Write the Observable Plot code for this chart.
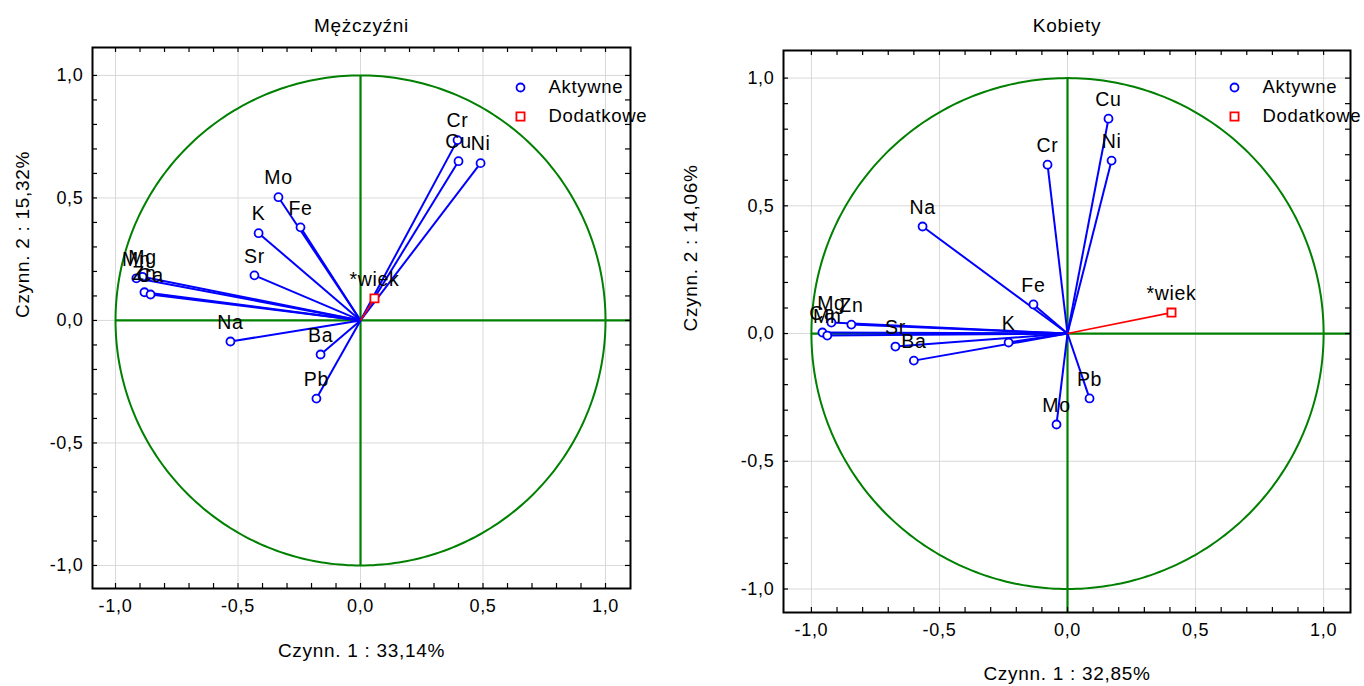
<!DOCTYPE html>
<html>
<head>
<meta charset="utf-8">
<script src="https://cdn.jsdelivr.net/npm/d3@7"></script>
<script src="https://cdn.jsdelivr.net/npm/@observablehq/plot@0.6"></script>
<style>
  body { margin: 0; background: #fff; }
  #wrap { display: flex; width: 1364px; height: 686px; overflow: hidden; }
  #wrap svg { overflow: visible; }
  #wrap svg text { letter-spacing: 0.7px; }
</style>
</head>
<body>
<div id="wrap"></div>
<script>
// Factor loadings (factor 1, factor 2) – men
const menNames = ["Cr", "Cu", "Ni", "Mo", "Fe", "K", "Sr", "Mn", "Mg", "Zn", "Ca", "Na", "Ba", "Pb"];
const menF1 = [0.396, 0.400, 0.490, -0.335, -0.245, -0.416, -0.433, -0.915, -0.890, -0.882, -0.857, -0.531, -0.163, -0.180];
const menF2 = [0.736, 0.650, 0.642, 0.503, 0.380, 0.356, 0.184, 0.172, 0.178, 0.115, 0.106, -0.086, -0.139, -0.319];
// Supplementary variable – men
const menSupNames = ["*wiek"];
const menSupF1 = [0.057];
const menSupF2 = [0.090];

// Factor loadings – women
const womenNames = ["Cu", "Ni", "Cr", "Na", "Fe", "Mg", "Zn", "Ca", "Mn", "Sr", "Ba", "K", "Pb", "Mo"];
const womenF1 = [0.160, 0.172, -0.078, -0.566, -0.133, -0.922, -0.844, -0.957, -0.938, -0.672, -0.600, -0.230, 0.086, -0.043];
const womenF2 = [0.841, 0.677, 0.661, 0.419, 0.114, 0.043, 0.035, 0.004, -0.008, -0.051, -0.106, -0.035, -0.254, -0.356];
// Supplementary variable – women
const womenSupNames = ["*wiek"];
const womenSupF1 = [0.406];
const womenSupF2 = [0.082];

// Axis ticks
const majorTicks = [-1, -0.5, 0, 0.5, 1];
const minorTicks = [-1, -0.9, -0.8, -0.7, -0.6, -0.5, -0.4, -0.3, -0.2, -0.1, 0, 0.1, 0.2, 0.3, 0.4, 0.5, 0.6, 0.7, 0.8, 0.9, 1];
const legendLabels = ["Aktywne", "Dodatkowe"];

const BLUE = "#0000ff", RED = "#ff0000", GREEN = "#008000";
const fmt = d => (Math.abs(d) < 1e-9 ? 0 : d).toFixed(1).replace(".", ",");

// unit correlation circle
const unitCircle = d3.range(0, 361, 1).map(a => ({x: Math.cos(a * Math.PI / 180), y: Math.sin(a * Math.PI / 180)}));

function panel(o) {
  const W = 682, H = 686;
  const innerW = W - o.ml - o.mr, innerH = H - o.mt - o.mb;
  const active = o.names.map((name, i) => ({name, x: o.f1[i], y: o.f2[i]}));
  const sup = o.supNames.map((name, i) => ({name, x: o.supF1[i], y: o.supF2[i]}));
  const tl = 5;
  return Plot.plot({
    width: W, height: H,
    marginLeft: o.ml, marginRight: o.mr, marginTop: o.mt, marginBottom: o.mb,
    x: {domain: o.xDomain},
    y: {domain: o.yDomain},
    style: {fontFamily: "'Liberation Sans', Arial, sans-serif", fontSize: "17px", color: "black", background: "white"},
    marks: [
      Plot.gridX(majorTicks, {stroke: "#d9d9d9", strokeOpacity: 1, strokeWidth: 1}),
      Plot.gridY(majorTicks, {stroke: "#d9d9d9", strokeOpacity: 1, strokeWidth: 1}),
      Plot.line(unitCircle, {x: "x", y: "y", stroke: GREEN, strokeWidth: 2}),
      Plot.ruleY([0], {x1: -1, x2: o.xDomain[1], stroke: GREEN, strokeWidth: 2.2}),
      Plot.ruleX([0], {y1: 1, y2: o.vBottom, stroke: GREEN, strokeWidth: 2.2}),
      Plot.link(active, {x1: 0, y1: 0, x2: "x", y2: "y", stroke: BLUE, strokeWidth: 2}),
      Plot.link(sup, {x1: 0, y1: 0, x2: "x", y2: "y", stroke: RED, strokeWidth: 1.6}),
      Plot.dot(active, {x: "x", y: "y", r: 4, stroke: BLUE, fill: "white", strokeWidth: 1.8}),
      Plot.dot(sup, {x: "x", y: "y", symbol: "square", r: 4.6, stroke: RED, fill: "white", strokeWidth: 1.8}),
      Plot.text(active, {x: "x", y: "y", text: "name", dy: -19, fontSize: 19.5, fill: "black"}),
      Plot.text(sup, {x: "x", y: "y", text: "name", dy: -19, fontSize: 19.5, fill: "black"}),
      // inward ticks on all four sides
      Plot.tickX(minorTicks, {x: d => d, insetTop: innerH - tl, stroke: "black", strokeWidth: 1.2}),
      Plot.tickX(minorTicks, {x: d => d, insetBottom: innerH - tl, stroke: "black", strokeWidth: 1.2}),
      Plot.tickY(minorTicks, {y: d => d, insetRight: innerW - tl, stroke: "black", strokeWidth: 1.2}),
      Plot.tickY(minorTicks, {y: d => d, insetLeft: innerW - tl, stroke: "black", strokeWidth: 1.2}),
      Plot.frame({stroke: "black", strokeWidth: 2}),
      Plot.axisX(majorTicks, {tickSize: 0, tickPadding: 11, tickFormat: fmt, fontSize: 18, label: null, fill: "black"}),
      Plot.axisY(majorTicks, {tickSize: 0, tickPadding: 9, tickFormat: fmt, fontSize: 18, label: null, fill: "black"}),
      Plot.text([o.title], {frameAnchor: "top", lineAnchor: "middle", dy: o.titleDy, fontSize: 19, fill: "black"}),
      Plot.text([o.xLabel], {frameAnchor: "bottom", lineAnchor: "middle", dy: o.xLabelDy, fontSize: 19, fill: "black"}),
      Plot.text([o.yLabel], {frameAnchor: "left", lineAnchor: "middle", dx: o.yLabelDx, rotate: -90, fontSize: 19, fill: "black"}),
      // legend
      Plot.dot([legendLabels[0]], {frameAnchor: "top-right", dx: o.legDx, dy: o.legDy, r: 4, stroke: BLUE, fill: "white", strokeWidth: 1.8}),
      Plot.dot([legendLabels[1]], {frameAnchor: "top-right", dx: o.legDx, dy: o.legDy + 29, symbol: "square", r: 4.6, stroke: RED, fill: "white", strokeWidth: 1.8}),
      Plot.text([legendLabels[0]], {frameAnchor: "top-right", lineAnchor: "middle", dx: o.legDx + 28, dy: o.legDy, textAnchor: "start", fontSize: 18.5, fill: "black"}),
      Plot.text([legendLabels[1]], {frameAnchor: "top-right", lineAnchor: "middle", dx: o.legDx + 28, dy: o.legDy + 29, textAnchor: "start", fontSize: 18.5, fill: "black"})
    ]
  });
}

const wrap = document.getElementById("wrap");
wrap.append(panel({
  title: "Mężczyźni", xLabel: "Czynn. 1 : 33,14%", yLabel: "Czynn. 2 : 15,32%",
  names: menNames, f1: menF1, f2: menF2,
  supNames: menSupNames, supF1: menSupF1, supF2: menSupF2,
  ml: 92, mr: 52, mt: 47, mb: 98,
  xDomain: [-1.094, 1.102], yDomain: [-1.094, 1.114], vBottom: -1,
  titleDy: -22, xLabelDy: 62, yLabelDx: -70, legDx: -110, legDy: 40
}));
wrap.append(panel({
  title: "Kobiety", xLabel: "Czynn. 1 : 32,85%", yLabel: "Czynn. 2 : 14,06%",
  names: womenNames, f1: womenF1, f2: womenF2,
  supNames: womenSupNames, supF1: womenSupF1, supF2: womenSupF2,
  ml: 101, mr: 14, mt: 50, mb: 74,
  xDomain: [-1.109, 1.105], yDomain: [-1.092, 1.108], vBottom: -1.092,
  titleDy: -25, xLabelDy: 61, yLabelDx: -93, legDx: -116, legDy: 37
}));
</script>
</body>
</html>
